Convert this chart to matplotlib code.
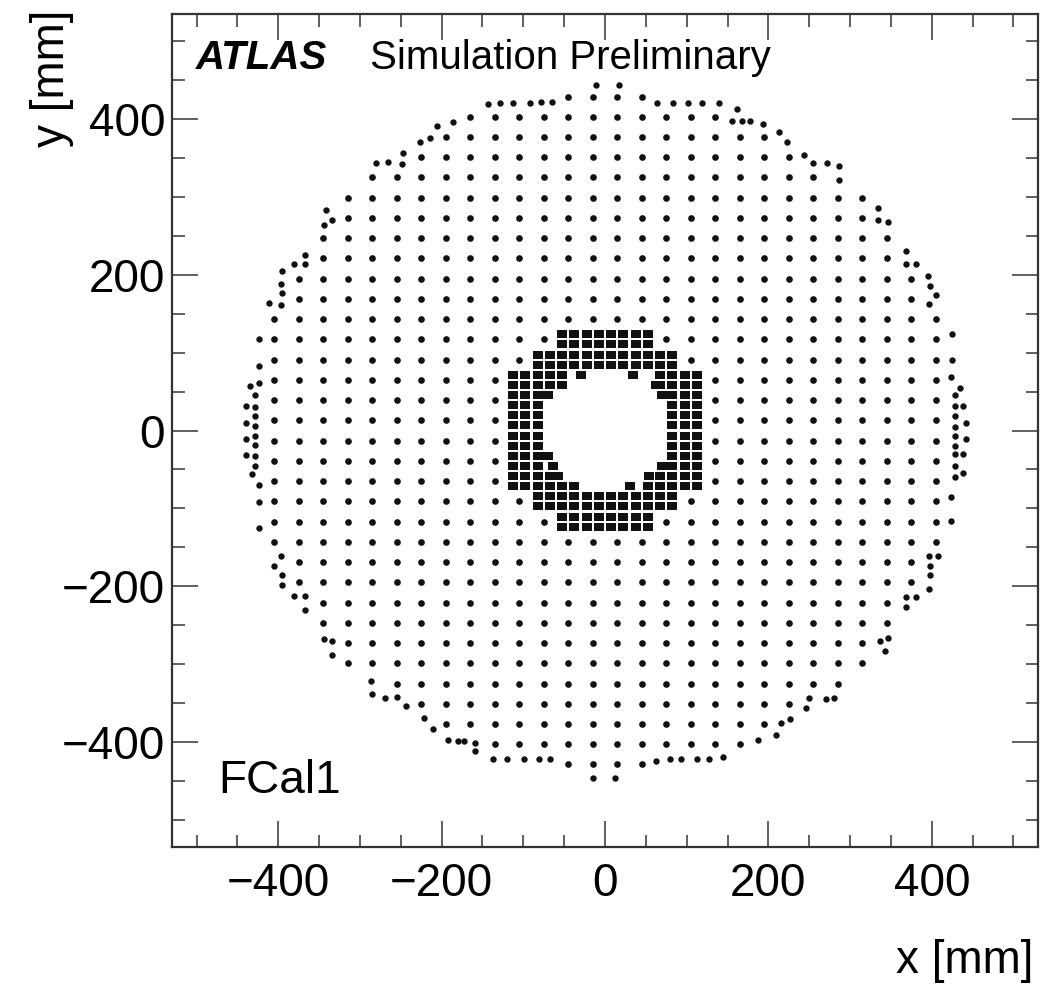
import numpy as np
import matplotlib
matplotlib.use("Agg")
import matplotlib.pyplot as plt
from matplotlib.ticker import MultipleLocator

plt.rcParams['font.family'] = ['Liberation Sans', 'DejaVu Sans']

# ---------------------------------------------------------------------------
# FCal1 cell centres (mm)
# Regular 30 x 26 mm cells, stored row by row as (y, [x_start, x_end] segments)
# ---------------------------------------------------------------------------
CELL_PITCH_X = 30.0

ROW_Y = [429, 403, 377, 351, 325, 299, 273, 247, 221, 195, 169, 143,
         117, 91, 65, 39, 13, -13, -39, -65, -91, -117,
         -143, -169, -195, -221, -247, -273, -299, -325, -351, -377, -403, -429]
ROW_SEGMENTS = [
    [(-45, 45)], [(-165, 135)], [(-195, 195)], [(-225, 225)], [(-285, 255)],
    [(-315, 315)], [(-315, 315)], [(-345, 345)], [(-345, 345)],
    [(-375, 375)], [(-375, 375)], [(-405, 405)],
    [(-405, -75), (75, 405)], [(-405, -105), (105, 405)],
    [(-405, -135), (135, 405)], [(-405, -135), (135, 405)],
    [(-405, -135), (135, 405)], [(-405, -135), (135, 405)],
    [(-405, -135), (135, 405)], [(-405, -135), (135, 405)],
    [(-405, -105), (105, 405)], [(-405, -75), (75, 405)],
    [(-405, 405)], [(-375, 375)], [(-375, 375)], [(-345, 345)], [(-345, 345)],
    [(-315, 315)], [(-315, 315)], [(-255, 285)], [(-225, 225)], [(-195, 195)],
    [(-135, 165)], [(-45, 45)],
]

# Fine 15 x 13 mm cells around the beam hole: row y -> list of x
FINE_Y = [123.5, 110.5, 97.5, 84.5, 71.5, 58.5, 45.5, 32.5, 19.5, 6.5,
          -6.5, -19.5, -32.5, -45.5, -58.5, -71.5, -84.5, -97.5, -110.5, -123.5]
FINE_X = [
    [-52.5, -37.5, -22.5, -7.5, 7.5, 22.5, 37.5, 52.5],
    [-52.5, -37.5, -22.5, -7.5, 7.5, 22.5, 37.5, 52.5],
    [-82.5, -67.5, -52.5, -37.5, -22.5, -7.5, 7.5, 22.5, 37.5, 52.5, 67.5, 82.5],
    [-82.5, -67.5, -52.5, -37.5, -22.5, -7.5, 7.5, 22.5, 37.5, 52.5, 67.5, 82.5],
    [-112.5, -97.5, -82.5, -67.5, -52.5, -29, 34, 67.5, 82.5, 97.5, 112.5],
    [-112.5, -97.5, -82.5, -67.5, -52.5, 62, 67.5, 82.5, 97.5, 112.5],
    [-112.5, -97.5, -82.5, -70, 70, 82.5, 97.5, 112.5],
    [-112.5, -97.5, -82.5, 82.5, 97.5, 112.5],
    [-112.5, -97.5, -82.5, 82.5, 97.5, 112.5],
    [-112.5, -97.5, -82.5, 82.5, 97.5, 112.5],
    [-112.5, -97.5, -82.5, 82.5, 97.5, 112.5],
    [-112.5, -97.5, -82.5, 82.5, 97.5, 112.5],
    [-112.5, -97.5, -82.5, -70, 82.5, 97.5, 112.5],
    [-112.5, -97.5, -82.5, -64, 70, 82.5, 97.5, 112.5],
    [-112.5, -97.5, -82.5, -67.5, -58, 54, 67.5, 82.5, 97.5, 112.5],
    [-112.5, -97.5, -82.5, -67.5, -52.5, -37.5, 30, 52.5, 67.5, 82.5, 97.5, 112.5],
    [-82.5, -67.5, -52.5, -37.5, -22.5, -7.5, 7.5, 22.5, 37.5, 52.5, 67.5, 82.5],
    [-82.5, -67.5, -52.5, -37.5, -22.5, -7.5, 7.5, 22.5, 37.5, 52.5, 67.5, 82.5],
    [-52.5, -37.5, -22.5, -7.5, 7.5, 22.5, 37.5, 52.5],
    [-52.5, -37.5, -22.5, -7.5, 7.5, 22.5, 37.5, 52.5],
]

# Partial cells cut by the outer boundary (centroid positions, mm)
EDGE_X = [-11, 17,
          -143, -128, -112, -92, -78, -65,
          64, 83, 101, 119, 139,
          161, 156, 168, 178, 194,
          -206, -186, -214, -226, 213, 223,
          -280, -266, -249, -247, 244, 255, 272, 286, 286,
          -341, -334, -344, 334, 334, 347,
          -367, -367, -381, -395, -397, -395, -411, -397,
          368, 368, 381, 395, 398, 405, 397,
          -424, -423, -423, -435, -428, -439, -428, -428, -439, -428,
          -428, -439, -428, -439, -428, -428, -432, -423, -424, -424,
          425, 425, 424, 434, 428, 428, 438, 428, 442, 428,
          428, 442, 428, 438, 428, 428, 438, 428, 424, 424,
          -397, -405, -395, -395, -381, -367, -367,
          396, 407, 398, 398, 396, 381, 368, 368,
          -344, -334, -334, 337, 347, 343,
          -286, -285, -269, -254, -244,
          250, 246, 270, 280,
          -222, -211, 215, 227, 209, 187,
          -192, -180, -172, -159, -159,
          -137, -120, -99, -81, -67,
          63, 80, 93, 113, 127, 145,
          -15, 12]
EDGE_Y = [444, 444,
          420, 421, 421, 421, 422, 422,
          421, 421, 421, 421, 421,
          413, 398, 398, 398, 394,
          391, 396, 376, 370, 383, 370,
          343, 345, 342, 357, 354, 344, 343, 340, 322,
          283, 270, 264, 286, 271, 268,
          226, 214, 214, 205, 188, 177, 164, 161,
          230, 214, 214, 198, 185, 174, 162,
          117, 83, 61, 57, 46, 31, 30, 19, 9, 6,
          -7, -11, -18, -31, -33, -46, -56, -70, -92, -125,
          124, 90, 69, 55, 46, 31, 31, 19, 10, 4,
          -7, -11, -20, -30, -30, -46, -55, -60, -85, -116,
          -161, -174, -185, -199, -213, -213, -230,
          -161, -161, -174, -186, -203, -214, -214, -227,
          -268, -271, -288, -271, -266, -283,
          -322, -339, -343, -342, -354,
          -343, -356, -345, -343,
          -369, -384, -376, -371, -391, -397,
          -397, -399, -399, -401, -412,
          -422, -422, -422, -422, -422,
          -425, -422, -422, -422, -422, -420,
          -446, -446]

# ---------------------------------------------------------------------------
reg_x, reg_y = [], []
for y, segs in zip(ROW_Y, ROW_SEGMENTS):
    for x0, x1 in segs:
        xs = np.arange(x0, x1 + 1, CELL_PITCH_X)
        reg_x.extend(xs)
        reg_y.extend([y] * len(xs))

fine_x, fine_y = [], []
for y, xs in zip(FINE_Y, FINE_X):
    fine_x.extend(xs)
    fine_y.extend([y] * len(xs))

W, H = 1041, 986
fig = plt.figure(figsize=(W / 100, H / 100), dpi=100)
ax = fig.add_axes([172 / W, 1 - 847 / H, (1038 - 172) / W, (847 - 14) / H])

# flat rectangular marker for the fine cells (wider than tall)
fine_marker = [(-1, -0.78), (1, -0.78), (1, 0.78), (-1, 0.78), (-1, -0.78)]

dot = dict(linestyle='none', color='#111111', markeredgewidth=0)
ax.plot(reg_x, reg_y, marker='o', markersize=4.8, **dot)
ax.plot(EDGE_X, EDGE_Y, marker='o', markersize=4.6, **dot)
ax.plot(fine_x, fine_y, marker=fine_marker, markersize=7.0, **dot)

ax.set_xlim(-530, 530)
ax.set_ylim(-535, 535)

for side in ax.spines.values():
    side.set_linewidth(1.6)
    side.set_color('#333333')

ax.xaxis.set_major_locator(MultipleLocator(200))
ax.xaxis.set_minor_locator(MultipleLocator(50))
ax.yaxis.set_major_locator(MultipleLocator(200))
ax.yaxis.set_minor_locator(MultipleLocator(50))
ax.tick_params(which='both', direction='in', top=True, right=True,
               color='#444444', width=1.2, labelsize=33)
ax.tick_params(which='major', length=19)
ax.tick_params(which='minor', length=9)
ax.tick_params(axis='x', which='major', pad=11)
ax.tick_params(axis='y', which='major', pad=5)


def fy(py):
    return 1 - py / H


fig.text(1033 / W, fy(973), 'x [mm]', ha='right', va='baseline', fontsize=33)
fig.text(52 / W, fy(10), 'y [mm]', ha='center', va='top', rotation=90, fontsize=33)
fig.text(196 / W, fy(69), 'ATLAS', ha='left', va='baseline', fontsize=29,
         fontweight='bold', fontstyle='italic')
fig.text(370 / W, fy(69), 'Simulation Preliminary', ha='left', va='baseline', fontsize=29)
fig.text(218 / W, fy(793), 'FCal1', ha='left', va='baseline', fontsize=33)

fig.savefig('out.png', dpi=100)
